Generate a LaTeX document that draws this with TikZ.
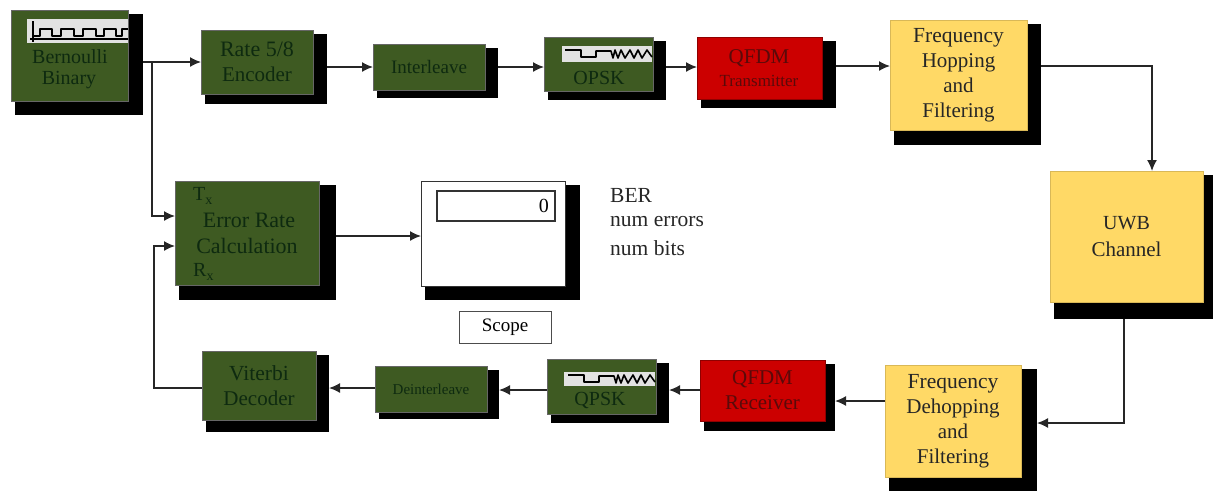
\documentclass[tikz,border=0pt]{standalone}
\usepackage{fontspec}
\setmainfont{Liberation Serif}
\usetikzlibrary{arrows.meta,calc}
\definecolor{grn}{HTML}{3E5A22}
\definecolor{grntx}{HTML}{0E2A10}
\definecolor{redb}{HTML}{CC0000}
\definecolor{redtx}{HTML}{5A0A0A}
\definecolor{yel}{HTML}{FFD966}
\definecolor{sigbg}{HTML}{E2E2E2}
\newcommand{\fsz}[1]{\fontsize{#1}{25}\selectfont}
\tikzset{
  wire/.style={draw=black!85,line width=1.4pt,-{Latex[length=11pt,width=10pt]}},
  shadowbox/.style={fill=black,draw=none,inner sep=0,outer sep=0},
  gbox/.style={fill=grn,draw=black!60,line width=.8pt,inner sep=0,outer sep=0,text=grntx,align=center},
  rbox/.style={fill=redb,draw=redb!70!black,line width=.6pt,inner sep=0,outer sep=0,text=redtx,align=center},
  ybox/.style={fill=yel,draw=yel!85!black,line width=.6pt,inner sep=0,outer sep=0,text=black!85,align=center},
  wbox/.style={fill=white,draw=black!80,line width=.8pt,inner sep=0,outer sep=0},
  lbl/.style={font=\fsz{21}},
  lab/.style={inner sep=0,anchor=west,text=black!85},
  sig/.style={draw=black,line width=1.6pt,line join=round}
}
\newcommand{\blk}[9]{%
  \node[shadowbox,minimum width={(#7-#3-4)*1pt},minimum height={(#8-#4-4)*1pt}] (#1s) at ({(#3+4+#7)/2},{(#4+4+#8)/2}) {};
  \node[#2,minimum width={(#5-#3)*1pt},minimum height={(#6-#4)*1pt}] (#1) at ({(#3+#5)/2},{(#4+#6)/2}) {#9};
}
\begin{document}
\begin{tikzpicture}[x=1pt,y=-1pt,lbl]
\useasboundingbox (0,0) rectangle (1213,491);
\blk{bern}{gbox}{11}{10}{128}{101}{143}{115}{}
\blk{rate}{gbox}{201}{30}{313}{94}{327}{104}{\fsz{22}Rate 5/8\\Encoder}
\blk{intl}{gbox}{373}{44}{485}{90}{498}{98}{\fsz{19}Interleave}
\blk{opskt}{gbox}{544}{37}{653}{91}{666}{100}{}
\blk{qtx}{rbox}{697}{37}{822}{99}{836}{108}{}
\blk{fh}{ybox}{890}{20}{1027}{130}{1041}{145}{\fsz{21.5}Frequency\\Hopping\\and\\Filtering}
\blk{uwb}{ybox}{1050}{171}{1203}{302}{1213}{319}{\fsz{20}UWB\\[2pt]Channel}
\blk{fd}{ybox}{885}{365}{1021}{477}{1037}{491}{\fsz{21.5}Frequency\\Dehopping\\and\\Filtering}
\blk{qrx}{rbox}{700}{360}{825}{421}{835}{431}{\fsz{21}QFDM\\Receiver}
\blk{qpskr}{gbox}{547}{359}{656}{414}{669}{423}{}
\blk{dint}{gbox}{375}{366}{487}{412}{499}{419}{\fsz{15}Deinterleave}
\blk{vit}{gbox}{202}{351}{316}{420}{329}{432}{\fsz{21.5}Viterbi\\Decoder}
\blk{err}{gbox}{175}{181}{319}{285}{336}{300}{}
\blk{disp}{wbox}{421}{181}{565}{286}{580}{300}{}

\node[text=grntx,inner sep=0,font=\fsz{20}] (berna) at (70,57) {Bernoulli};
\node[text=grntx,inner sep=0,font=\fsz{20}] (bernb) at (69,80) {Binary};
\node[text=grntx,inner sep=0,font=\fsz{20}] (opsk1) at (599,78) {OPSK};
\node[text=redtx,inner sep=0] (q1) at (759,58) {QFDM};
\node[text=redtx,inner sep=0,font=\fsz{17}] (q2) at (759,81) {Transmitter};
\node[text=grntx,inner sep=0,font=\fsz{20}] (opsk2) at (600,400) {QPSK};
\node[text=grntx,inner sep=0,font=\fsz{22}] (e1) at (249,220) {Error Rate};
\node[text=grntx,inner sep=0,font=\fsz{22}] (e2) at (247,246) {Calculation};
\node[text=grntx,inner sep=0,anchor=west,font=\fsz{20}] (e3) at (193,196) {T\textsubscript{x}};
\node[text=grntx,inner sep=0,anchor=west,font=\fsz{20}] (e4) at (193,272) {R\textsubscript{x}};

\fill[sigbg] (27,19) rectangle (128,43);
\draw[sig] (33,21) -- (33,42);
\draw[sig] (30,39) -- (128,39);
\draw[sig,line width=2pt] (33,36) -- (40,36) -- (40,29) -- (52,29) -- (52,36) -- (61,36) -- (61,29) -- (74,29) -- (74,36) -- (83,36) -- (83,29) -- (96,29) -- (96,36) -- (104,36) -- (104,29) -- (116,29) -- (116,36) -- (122,36) -- (122,29) -- (128,29);
\fill[sigbg] (562,46) rectangle (652,62);
\draw[sig] (565,50) -- (581,50) -- (581,57) -- (596,57) -- (596,51) -- (611,51) -- (613,58) -- (615,50) -- (618,58) -- (621,50) -- (625,58) -- (630,50) -- (634,58) -- (638,50) -- (642,58) -- (647,50) -- (652,57);
\fill[sigbg] (564,372) rectangle (655,386);
\draw[sig] (568,375) -- (584,375) -- (584,382) -- (599,382) -- (599,376) -- (614,376) -- (616,383) -- (618,375) -- (621,383) -- (624,375) -- (628,383) -- (633,375) -- (637,383) -- (641,375) -- (645,383) -- (650,375) -- (655,382);

\node[wbox,line width=1.5pt,minimum width=118pt,minimum height=30pt] (zero) at (496,206) {};
\node[inner sep=0,anchor=east,text=black,font=\fsz{20}] (zerot) at (549,206) {0};
\node[wbox,minimum width=92pt,minimum height=32pt,draw=black!70,font=\fsz{19}] (scope) at (505,327) {Scope};
\node[lab,font=\fsz{21.5}] (t1) at (610,195) {BER};
\node[lab,font=\fsz{21.5}] (t2) at (610,222) {num errors};
\node[lab,font=\fsz{21.5}] (t3) at (610,248) {num bits};

\coordinate (j) at (152,62);
\draw[wire] (bern.east |- 0,62) ++(15,0) -- (rate.west |- 0,62);
\draw[wire] (j) |- (err.west |- 0,216);
\draw[wire] (rates.east |- 0,67) -- (intl.west |- 0,67);
\draw[wire] (intls.east |- 0,67) -- (opskt.west |- 0,67);
\draw[wire] (opskts.east |- 0,67) -- (qtx.west |- 0,67);
\draw[wire] (qtxs.east |- 0,66) -- (fh.west |- 0,66);
\draw[wire] (fhs.east |- 0,66) -- (1152,66) -- (uwb.north -| 1152,0);
\draw[wire] (uwbs.south -| 1124,0) -- (1124,423) -- (fds.east |- 0,423);
\draw[wire] (fd.west |- 0,401) -- (qrxs.east |- 0,401);
\draw[wire] (qrx.west |- 0,390) -- (qpskrs.east |- 0,390);
\draw[wire] (qpskr.west |- 0,390) -- (dints.east |- 0,390);
\draw[wire] (dint.west |- 0,388) -- (vits.east |- 0,388);
\draw[wire] (vit.west |- 0,388) -- (154,388) -- (154,246) -- (err.west |- 0,246);
\draw[wire] (errs.east |- 0,236) -- (disp.west |- 0,236);
\end{tikzpicture}
\end{document}
